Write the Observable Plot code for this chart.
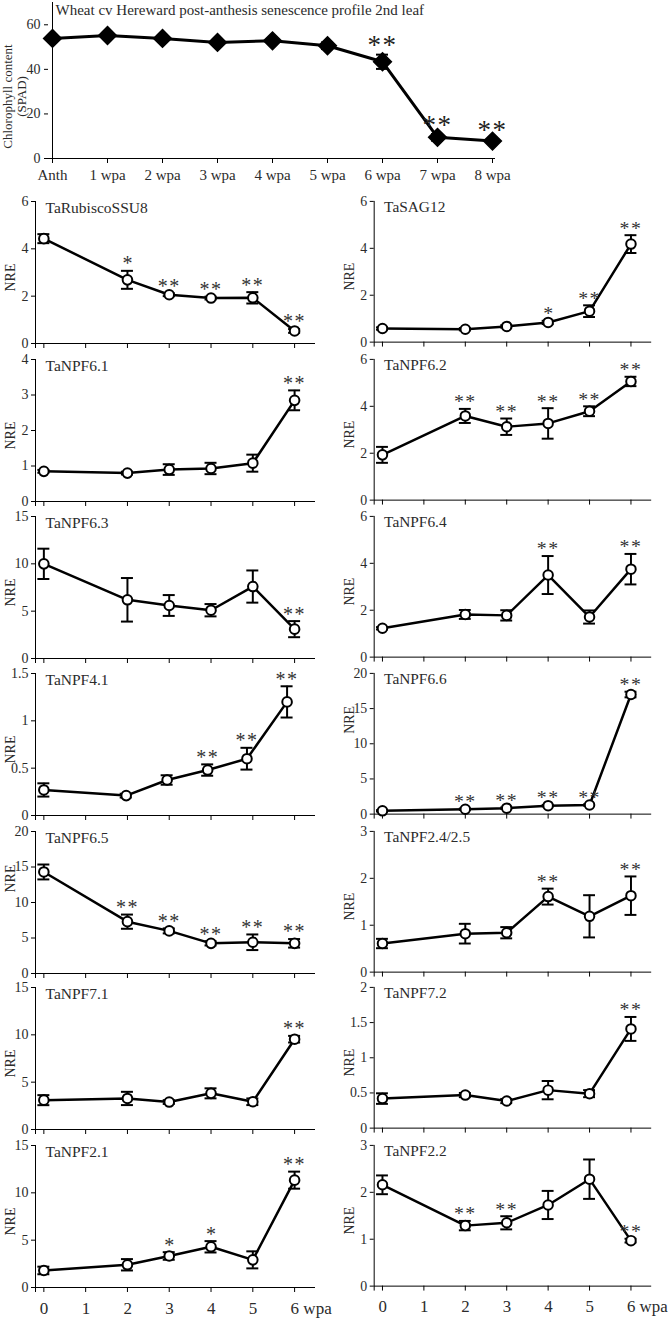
<!DOCTYPE html>
<html><head><meta charset="utf-8">
<script src="https://cdn.jsdelivr.net/npm/d3@7"></script>
<script src="https://cdn.jsdelivr.net/npm/@observablehq/plot@0.6"></script>
<style>
body{margin:0;background:#fff;}
#fig{position:relative;width:671px;height:1320px;overflow:hidden;background:#fff;}
#fig > div{position:absolute;}
svg{overflow:visible;}
</style></head><body><div id="fig"></div>
<script>
// ---------- top panel data ----------
const chlTitle = "Wheat cv Hereward post-anthesis senescence profile 2nd leaf";
const chlYLabel = "Chlorophyll content\n(SPAD)";
const chlCategories = ["Anth","1 wpa","2 wpa","3 wpa","4 wpa","5 wpa","6 wpa","7 wpa","8 wpa"];
const chlValues = [53.9, 55.2, 53.9, 52.1, 52.8, 50.6, 43.4, 9.5, 7.8];
const chlErrors = [0.8, 0.8, 0.8, 0.8, 0.8, 1.5, 3.2, 1.5, 0.8];
const chlStars  = ["", "", "", "", "", "", "**", "**", "**"];
const chlYTicks = [0, 20, 40, 60];

// ---------- gene panels data ----------
const weeks = [0, 2, 3, 4, 5, 6];
const xTickValues = [0, 1, 2, 3, 4, 5, 6];
const xTickLabels = ["0", "1", "2", "3", "4", "5", "6 wpa"];
const yLabel = "NRE";

const geneNames = ["TaRubiscoSSU8","TaSAG12","TaNPF6.1","TaNPF6.2","TaNPF6.3","TaNPF6.4","TaNPF4.1","TaNPF6.6","TaNPF6.5","TaNPF2.4/2.5","TaNPF7.1","TaNPF7.2","TaNPF2.1","TaNPF2.2"];
const geneYMax  = [6, 6, 4, 6, 15, 6, 1.5, 20, 20, 3, 15, 2, 15, 3];
const geneYStep = [2, 2, 1, 2, 5, 2, 0.5, 5, 5, 1, 5, 0.5, 5, 1];

const vRubiscoSSU8 = [4.43, 2.69, 2.06, 1.92, 1.93, 0.53];
const eRubiscoSSU8 = [0.19, 0.38, 0.06, 0.06, 0.24, 0.08];
const sRubiscoSSU8 = ["", "*", "**", "**", "**", "**"];

const vSAG12 = [0.58, 0.55, 0.67, 0.84, 1.32, 4.18];
const eSAG12 = [0.05, 0.05, 0.05, 0.07, 0.25, 0.38];
const sSAG12 = ["", "", "", "*", "**", "**"];

const vNPF61 = [0.85, 0.80, 0.90, 0.93, 1.08, 2.85];
const eNPF61 = [0.04, 0.04, 0.15, 0.16, 0.24, 0.28];
const sNPF61 = ["", "", "", "", "", "**"];

const vNPF62 = [1.93, 3.59, 3.13, 3.27, 3.79, 5.06];
const eNPF62 = [0.34, 0.30, 0.35, 0.65, 0.21, 0.20];
const sNPF62 = ["", "**", "**", "**", "**", "**"];

const vNPF63 = [10.0, 6.2, 5.6, 5.1, 7.6, 3.1];
const eNPF63 = [1.6, 2.3, 1.1, 0.65, 1.7, 0.85];
const sNPF63 = ["", "", "", "", "", "**"];

const vNPF64 = [1.23, 1.82, 1.78, 3.50, 1.71, 3.75];
const eNPF64 = [0.05, 0.19, 0.22, 0.81, 0.28, 0.65];
const sNPF64 = ["", "", "", "**", "", "**"];

const xNPF41 = [0, 1.97, 2.95, 3.92, 4.86, 5.82];
const vNPF41 = [0.27, 0.21, 0.375, 0.48, 0.60, 1.20];
const eNPF41 = [0.07, 0.02, 0.05, 0.06, 0.115, 0.165];
const sNPF41 = ["", "", "", "**", "**", "**"];

const vNPF66 = [0.47, 0.70, 0.85, 1.20, 1.30, 17.0];
const eNPF66 = [0.1, 0.1, 0.1, 0.1, 0.1, 0.4];
const sNPF66 = ["", "**", "**", "**", "**", "**"];

const vNPF65 = [14.3, 7.3, 6.0, 4.25, 4.4, 4.25];
const eNPF65 = [1.05, 1.0, 0.35, 0.3, 1.1, 0.6];
const sNPF65 = ["", "**", "**", "**", "**", "**"];

const vNPF2425 = [0.61, 0.82, 0.84, 1.61, 1.19, 1.63];
const eNPF2425 = [0.10, 0.21, 0.12, 0.17, 0.45, 0.41];
const sNPF2425 = ["", "", "", "**", "", "**"];

const vNPF71 = [3.10, 3.28, 2.90, 3.82, 2.93, 9.54];
const eNPF71 = [0.53, 0.70, 0.20, 0.53, 0.35, 0.35];
const sNPF71 = ["", "", "", "", "", "**"];

const vNPF72 = [0.42, 0.47, 0.385, 0.54, 0.49, 1.41];
const eNPF72 = [0.075, 0.03, 0.03, 0.13, 0.05, 0.17];
const sNPF72 = ["", "", "", "", "", "**"];

const vNPF21 = [1.80, 2.40, 3.33, 4.30, 2.92, 11.34];
const eNPF21 = [0.4, 0.6, 0.4, 0.6, 0.9, 0.9];
const sNPF21 = ["", "", "*", "*", "", "**"];

const vNPF22 = [2.16, 1.29, 1.35, 1.73, 2.28, 0.97];
const eNPF22 = [0.20, 0.10, 0.14, 0.30, 0.42, 0.04];
const sNPF22 = ["", "**", "**", "", "", "**"];

// ---------- assembly ----------
const geneValues = [vRubiscoSSU8, vSAG12, vNPF61, vNPF62, vNPF63, vNPF64, vNPF41, vNPF66, vNPF65, vNPF2425, vNPF71, vNPF72, vNPF21, vNPF22];
const geneErrors = [eRubiscoSSU8, eSAG12, eNPF61, eNPF62, eNPF63, eNPF64, eNPF41, eNPF66, eNPF65, eNPF2425, eNPF71, eNPF72, eNPF21, eNPF22];
const geneStars  = [sRubiscoSSU8, sSAG12, sNPF61, sNPF62, sNPF63, sNPF64, sNPF41, sNPF66, sNPF65, sNPF2425, sNPF71, sNPF72, sNPF21, sNPF22];
const geneX = {"TaNPF4.1": xNPF41};

const FONT = "'Liberation Serif','Times New Roman',serif";
const INK = "#000";
const TXT = "#2b2b2b";
const fig = document.getElementById("fig");
function place(svg, left, top) {
  const d = document.createElement("div");
  d.style.left = left + "px"; d.style.top = top + "px";
  d.appendChild(svg); fig.appendChild(d);
  d3.select(svg).selectAll("text").filter(function(){ return this.textContent === "**"; })
    .attr("letter-spacing", "1.5");
}

// top chlorophyll panel
{
  const data = chlCategories.map((c, i) => ({c, v: chlValues[i], e: chlErrors[i], s: chlStars[i]}));
  const svg = Plot.plot({
    width: 671, height: 192, marginLeft: 48, marginRight: 176, marginTop: 2, marginBottom: 34,
    x: {type: "point", domain: chlCategories, padding: 0, axis: null},
    y: {domain: [0, 70], axis: null},
    style: {fontFamily: FONT, background: "transparent", color: TXT},
    marks: [
      Plot.ruleX([chlCategories[0]], {stroke: INK, strokeWidth: 1}),
      Plot.ruleY([0], {stroke: INK, strokeWidth: 1}),
      Plot.axisY({ticks: chlYTicks, tickSize: 4, tickPadding: 4, fontSize: 14, label: null, stroke: INK}),
      Plot.axisX({tickSize: 5, tickPadding: 6, fontSize: 15, label: null, stroke: INK}),
      Plot.ruleX(data, {x: "c", y1: d => d.v - d.e, y2: d => d.v + d.e, stroke: INK, strokeWidth: 2}),
      Plot.ruleY(data, {y: d => d.v + d.e, x1: "c", x2: "c", insetLeft: -6, insetRight: -6, stroke: INK, strokeWidth: 2}),
      Plot.ruleY(data, {y: d => d.v - d.e, x1: "c", x2: "c", insetLeft: -6, insetRight: -6, stroke: INK, strokeWidth: 2}),
      Plot.line(data, {x: "c", y: "v", stroke: INK, strokeWidth: 3}),
      Plot.dot(data, {x: "c", y: "v", symbol: "diamond2", r: 8, fill: INK, stroke: INK}),
      Plot.text(data.filter(d => d.s), {x: "c", y: d => d.v + d.e, text: "s", dy: -9, fontSize: 27, fill: "#222"}),
      Plot.text([chlTitle], {frameAnchor: "top-left", dx: 7, dy: 2, fontSize: 15, fill: TXT}),
      Plot.text([chlYLabel], {frameAnchor: "left", textAnchor: "middle", rotate: -90, dx: -34, dy: 16, fontSize: 13, lineHeight: 1.05, fill: TXT})
    ]
  });
  place(svg, 0, 0);
}

// gene panels
const rowTops = [201, 359, 516, 673, 831, 987, 1145];
const PH = 142;
geneNames.forEach((name, i) => {
  const col = i % 2, row = Math.floor(i / 2);
  const isBottom = row === 6;
  const xs = geneX[name] || weeks;
  const data = xs.map((x, j) => ({x, v: geneValues[i][j], e: geneErrors[i][j], s: geneStars[i][j]}));
  const yMax = geneYMax[i], step = geneYStep[i];
  const yTicks = d3.range(0, yMax + step / 2, step);
  const mt = 10, mb = isBottom ? 34 : 10;
  const labelShift = yMax === 20 ? -24 : 5;
  const marks = [
    Plot.ruleX([-0.2], {stroke: INK, strokeWidth: 1, insetBottom: -5}),
    Plot.ruleY([0], {stroke: INK, strokeWidth: 1}),
    Plot.axisY({ticks: yTicks, tickSize: 4, tickPadding: 3, fontSize: 14, label: null, stroke: INK, tickFormat: d3.format("~g")}),
    Plot.ruleX(xTickValues, {y1: 0, y2: 0, insetBottom: -5, stroke: INK, strokeWidth: 1}),
    Plot.ruleX(data, {x: "x", y1: d => d.v - d.e, y2: d => d.v + d.e, stroke: INK, strokeWidth: 2}),
    Plot.ruleY(data, {y: d => d.v + d.e, x1: "x", x2: "x", insetLeft: -6, insetRight: -6, stroke: INK, strokeWidth: 2}),
    Plot.ruleY(data, {y: d => d.v - d.e, x1: "x", x2: "x", insetLeft: -6, insetRight: -6, stroke: INK, strokeWidth: 2}),
    Plot.line(data, {x: "x", y: "v", stroke: INK, strokeWidth: 2.5}),
    Plot.dot(data, {x: "x", y: "v", r: 4.8, fill: "white", stroke: INK, strokeWidth: 2}),
    Plot.text(data.filter(d => d.s), {x: "x", y: d => d.v + d.e, text: "s", dy: -7, fontSize: 20, fill: "#333"}),
    Plot.text([name], {frameAnchor: "top-left", dx: 10, dy: 0, fontSize: 15.5, fill: TXT}),
    Plot.text([yLabel], {frameAnchor: "left", textAnchor: "middle", rotate: -90, dx: -25, dy: labelShift, fontSize: 14, fill: TXT})
  ];
  if (isBottom) {
    marks.push(Plot.text(xTickValues, {x: d => d, y: 0, text: (d, k) => xTickLabels[k], textAnchor: "start", dx: -4, dy: 21, fontSize: 17, fill: TXT}));
  }
  const svg = Plot.plot({
    width: 335, height: mt + PH + mb, marginLeft: 35, marginRight: 20, marginTop: mt, marginBottom: mb,
    x: {domain: [-0.2, 6.5], axis: null},
    y: {domain: [0, yMax], axis: null},
    style: {fontFamily: FONT, background: "transparent", color: TXT},
    marks
  });
  place(svg, col === 0 ? 0 : 339, rowTops[row] - mt);
});
</script></body></html>
